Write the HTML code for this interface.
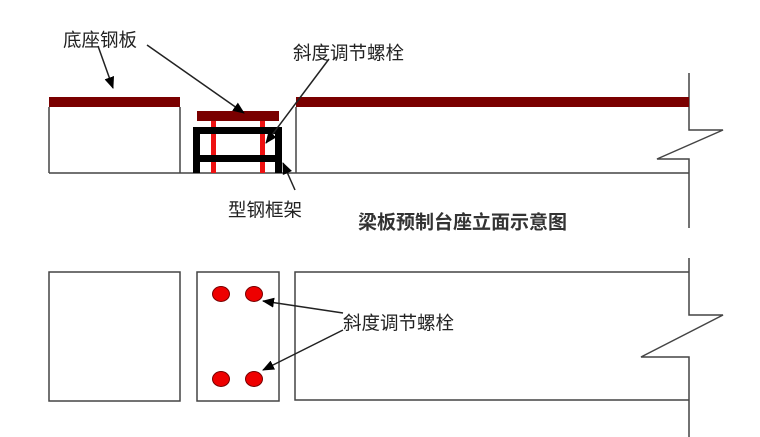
<!DOCTYPE html>
<html><head><meta charset="utf-8"><style>
html,body{margin:0;padding:0;background:#fff;}
svg{display:block;}
text{font-family:"Liberation Sans","Noto Sans CJK SC",sans-serif;fill:#222;}
</style></head><body>
<svg width="760" height="437" viewBox="0 0 760 437" xmlns="http://www.w3.org/2000/svg">
<defs>
<marker id="ah" markerWidth="12" markerHeight="10" refX="11" refY="5" orient="auto" markerUnits="userSpaceOnUse">
<path d="M0,0 L12,5 L0,10 Z" fill="#000"/>
</marker>
</defs>
<g stroke="#444" stroke-width="1.5" fill="none">
<!-- top section blocks -->
<line x1="49" y1="107" x2="49" y2="173"/>
<line x1="180" y1="107" x2="180" y2="173"/>
<line x1="296" y1="107" x2="296" y2="173"/>
<line x1="49" y1="173" x2="689" y2="173"/>
<polyline points="689,73 689,130 723,130 657,159 689,159 689,228"/>
<!-- bottom section -->
<rect x="49" y="272" width="131" height="129"/>
<rect x="197" y="272" width="82" height="129"/>
<polyline points="689,272 295,272 295,400 689,400"/>
<polyline points="689,258 689,315 723,315 641,357 689,357 689,437"/>
</g>
<!-- plates -->
<rect x="49" y="97" width="131" height="10" fill="#7a0000"/>
<rect x="296" y="97" width="393" height="10" fill="#7a0000"/>
<rect x="197" y="111" width="82" height="10" fill="#7a0000"/>
<!-- red bolts -->
<rect x="211" y="121" width="5" height="52" fill="#ee1111"/>
<rect x="260" y="121" width="5" height="52" fill="#ee1111"/>
<!-- steel frame -->
<g stroke="#000" stroke-width="7" fill="none">
<polyline points="196.5,173 196.5,130.5 278.5,130.5 278.5,173"/>
<line x1="196" y1="158.5" x2="279" y2="158.5"/>
</g>
<!-- circles -->
<g fill="#ee0000" stroke="#700" stroke-width="1">
<ellipse cx="221" cy="294" rx="8.5" ry="7.5"/>
<ellipse cx="254" cy="294" rx="8.5" ry="7.5"/>
<ellipse cx="221" cy="379" rx="8.5" ry="7.5"/>
<ellipse cx="254" cy="379" rx="8.5" ry="7.5"/>
</g>
<!-- arrows -->
<g stroke="#222" stroke-width="1.5" fill="none" marker-end="url(#ah)">
<line x1="98" y1="46" x2="113" y2="88"/>
<line x1="147" y1="45" x2="244" y2="113"/>
<line x1="329" y1="59" x2="266" y2="143"/>
<line x1="295" y1="190" x2="283" y2="163"/>
<line x1="343" y1="313" x2="263" y2="301"/>
<line x1="343" y1="330" x2="263" y2="370"/>
</g>
<!-- labels -->
<text x="63" y="40" font-size="18.5" dominant-baseline="central">底座钢板</text>
<text x="293" y="53" font-size="18.5" dominant-baseline="central">斜度调节螺栓</text>
<text x="228" y="210" font-size="18.5" dominant-baseline="central">型钢框架</text>
<text x="358" y="223" font-size="19" font-weight="bold" dominant-baseline="central" style="fill:#333">梁板预制台座立面示意图</text>
<text x="343" y="323" font-size="18.5" dominant-baseline="central">斜度调节螺栓</text>
</svg>
</body></html>
